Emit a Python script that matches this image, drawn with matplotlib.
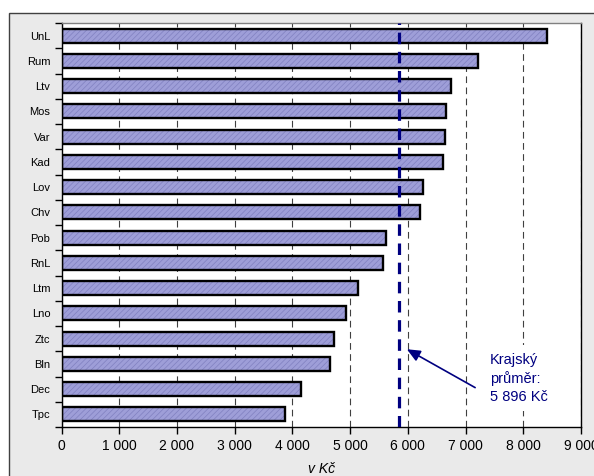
import matplotlib
matplotlib.use("Agg")
import matplotlib.pyplot as plt
from matplotlib.patches import Rectangle
import numpy as np

plt.rcParams['font.family'] = ['Liberation Sans', 'DejaVu Sans']
plt.rcParams['hatch.linewidth'] = 0.5

categories = ["UnL", "Rum", "Ltv", "Mos", "Var", "Kad", "Lov", "Chv",
              "Pob", "RnL", "Ltm", "Lno", "Ztc", "Bln", "Dec", "Tpc"]
values = [8405, 7210, 6740, 6655, 6640, 6605, 6255, 6205,
          5620, 5570, 5145, 4935, 4720, 4660, 4150, 3880]
avg_line = 5840
avg_label = "Krajský\nprůměr:\n5 896 Kč"
xticks = [0, 1000, 2000, 3000, 4000, 5000, 6000, 7000, 8000, 9000]
xticklabels = ["0", "1 000", "2 000", "3 000", "4 000", "5 000", "6 000", "7 000", "8 000", "9 000"]
xlabel = "v Kč"

navy = "#000080"

fig = plt.figure(figsize=(5.94, 4.76), dpi=100)
fig.patch.set_facecolor("white")
# outer chart frame
frame = Rectangle((9 / 594, -0.02), 1.05, 1 - 13 / 476 + 0.02, transform=fig.transFigure,
                  facecolor="#EAEAEA", edgecolor="#404040", linewidth=1.0, zorder=-5)
fig.patches.append(frame)

ax = fig.add_axes([61.5 / 594, 1 - 427 / 476, (581 - 61.5) / 594, (427 - 23) / 476])
ax.set_zorder(5)
ax.set_facecolor("white")

y = np.arange(len(categories))
ax.barh(y, values, height=0.55, color="#9E9ED8", edgecolor="#8080C0", hatch="//////",
        linewidth=0, zorder=2)
ax.barh(y, values, height=0.55, fill=False, edgecolor="black", linewidth=1.7, zorder=3)

ax.set_xlim(0, 9000)
ax.set_ylim(len(categories) - 0.5, -0.5)
ax.set_xticks(xticks)
ax.set_xticklabels(xticklabels, fontsize=10)
ax.tick_params(axis="x", direction="out", length=5, width=1, pad=4)

ax.set_yticks(y)
ax.set_yticklabels(categories, fontsize=8)
ax.tick_params(axis="y", which="major", length=0, pad=8)
ax.set_yticks(np.arange(-0.5, len(categories), 1), minor=True)
ax.tick_params(axis="y", which="minor", direction="out", length=5, width=1)

ax.set_axisbelow(True)
ax.xaxis.grid(True, color="#404040", linewidth=0.8, linestyle=(0, (6, 4)))

for side in ["left", "bottom", "right"]:
    ax.spines[side].set_color("black")
    ax.spines[side].set_linewidth(1.0)
ax.spines["top"].set_color("#808080")
ax.spines["top"].set_linewidth(1.0)

ax.axvline(avg_line, color=navy, linewidth=2.3, linestyle=(0, (3.6, 2.4)), zorder=4)

ax.annotate("", xy=(5983, 12.42), xytext=(7166, 13.94),
            arrowprops=dict(arrowstyle="-|>,head_length=0.8,head_width=0.35",
                            color=navy, lw=1.2, shrinkA=0, shrinkB=0), zorder=5)
ax.text(7426, 12.55, avg_label, color=navy, fontsize=10.5, va="top", ha="left",
        linespacing=1.35, zorder=5,
        bbox=dict(boxstyle="square,pad=0.5", facecolor="white", edgecolor="none"))

ax.set_xlabel(xlabel, fontsize=10, style="italic", labelpad=6)

fig.savefig("out.png", dpi=100, facecolor=fig.get_facecolor())
